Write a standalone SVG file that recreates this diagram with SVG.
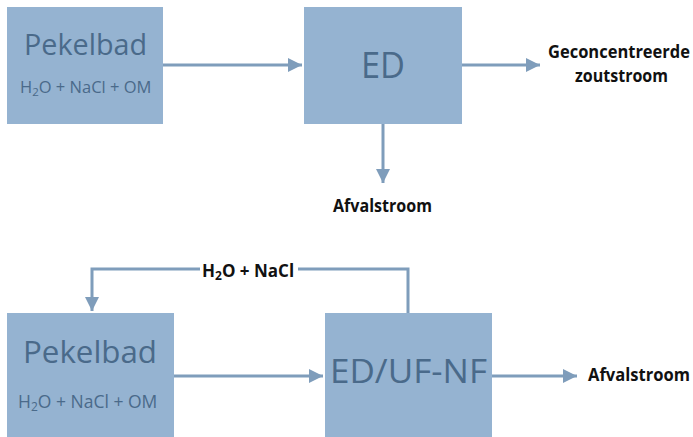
<svg xmlns="http://www.w3.org/2000/svg" width="693" height="437" viewBox="0 0 693 437">
<style>
.box{fill:#95B3D1}
.bt{font-family:"Open Sans","Liberation Sans",sans-serif;fill:#4A6A8A}
.lbl{font-family:"Open Sans","Liberation Sans",sans-serif;font-weight:bold;font-size:17px;fill:#111}
.c{stroke:#7F9DBB;stroke-width:3;fill:none}
</style>
<defs>
<marker id="ah" markerUnits="userSpaceOnUse" markerWidth="14" markerHeight="14" viewBox="0 0 14 14" refX="14" refY="7" orient="auto">
<path d="M0,0 L14,7 L0,14 Z" fill="#7F9DBB"/>
</marker>
</defs>
<rect width="693" height="437" fill="#fff"/>
<g id="connectors">
<line class="c" x1="163" y1="65" x2="302" y2="65" marker-end="url(#ah)"/>
<line class="c" x1="462" y1="65" x2="540" y2="65" marker-end="url(#ah)"/>
<line class="c" x1="383" y1="124" x2="383" y2="183" marker-end="url(#ah)"/>
<polyline class="c" points="408,313 408,269 92,269 92,311" marker-end="url(#ah)"/>
<line class="c" x1="174" y1="376" x2="323" y2="376" marker-end="url(#ah)"/>
<line class="c" x1="492" y1="376" x2="577" y2="376" marker-end="url(#ah)"/>
<rect x="200" y="258" width="98" height="22" fill="#fff"/>
<text class="lbl" x="202" y="277">H<tspan font-size="12" dy="3">2</tspan><tspan dy="-3">O + NaCl</tspan></text>
</g>
<g id="pekelbad1">
<rect class="box" x="7" y="7" width="156" height="117"/>
<text class="bt" x="24" y="55" font-size="30" textLength="123" lengthAdjust="spacingAndGlyphs">Pekelbad</text>
<text class="bt" x="20" y="93" font-size="16.5">H<tspan font-size="11.5" dy="3">2</tspan><tspan dy="-3">O + NaCl + OM</tspan></text>
</g>
<g id="ed">
<rect class="box" x="304" y="7" width="158" height="117"/>
<text class="bt" x="361" y="78" font-size="36" textLength="44" lengthAdjust="spacingAndGlyphs">ED</text>
</g>
<g id="geconcentreerde">
<text class="lbl" x="548" y="58" textLength="142" lengthAdjust="spacingAndGlyphs">Geconcentreerde</text>
<text class="lbl" x="575" y="82" textLength="93" lengthAdjust="spacingAndGlyphs">zoutstroom</text>
</g>
<g id="afval1">
<text class="lbl" x="333" y="212" textLength="99" lengthAdjust="spacingAndGlyphs">Afvalstroom</text>
</g>
<g id="pekelbad2">
<rect class="box" x="7" y="313" width="167" height="124"/>
<text class="bt" x="23" y="363" font-size="31" textLength="134" lengthAdjust="spacingAndGlyphs">Pekelbad</text>
<text class="bt" x="18" y="408" font-size="17.5">H<tspan font-size="12" dy="3">2</tspan><tspan dy="-3">O + NaCl + OM</tspan></text>
</g>
<g id="edufnf">
<rect class="box" x="325" y="313" width="167" height="124"/>
<text class="bt" x="330" y="383" font-size="32" textLength="157" lengthAdjust="spacingAndGlyphs">ED/UF-NF</text>
</g>
<g id="afval2">
<text class="lbl" x="588" y="381" textLength="102" lengthAdjust="spacingAndGlyphs">Afvalstroom</text>
</g>
</svg>
